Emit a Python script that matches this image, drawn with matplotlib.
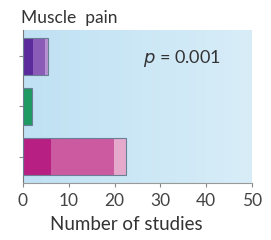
import matplotlib
matplotlib.use("Agg")
import matplotlib.pyplot as plt
import numpy as np
from matplotlib.colors import LinearSegmentedColormap

categories = ["A", "B", "C"]
seg1 = [2.2, 2.0, 6.2]
seg2 = [2.6, 0.0, 13.6]
seg3 = [0.7, 0.0, 2.6]
colors1 = ["#5b2a9c", "#1f9a63", "#b81f83"]
colors2 = ["#8a5cb8", "#1f9a63", "#cc5aa0"]
colors3 = ["#b792d2", "#1f9a63", "#e5a9cc"]
xticks = [0, 10, 20, 30, 40, 50]

plt.rcParams['font.family'] = ['Lato', 'DejaVu Sans']
fig = plt.figure(figsize=(2.71, 2.40), dpi=100)
ax = fig.add_axes([23/271, 1-183/240, (252-23)/271, (183-30)/240])

grad = np.linspace(0, 1, 256).reshape(1, -1)
cmap = LinearSegmentedColormap.from_list("bg", ["#bfe1f3", "#d8edf8"])
ax.imshow(grad, extent=[0, 50, 2.53, -0.53], aspect='auto', cmap=cmap, zorder=0)

y = np.arange(len(categories))
s1 = np.array(seg1); s2 = np.array(seg2); s3 = np.array(seg3)
h = 0.74
ax.barh(y, s1, height=h, color=colors1, zorder=2)
ax.barh(y, s2, left=s1, height=h, color=colors2, zorder=2)
ax.barh(y, s3, left=s1+s2, height=h, color=colors3, zorder=2)
ax.barh(y, s1+s2+s3, height=h, fill=False, edgecolor="#6a7f95", linewidth=0.8, zorder=3)

ax.set_xlim(0, 50)
ax.set_ylim(2.53, -0.53)
ax.set_xticks(xticks)
ax.set_xticklabels([str(t) for t in xticks], fontsize=12.5, color="#444444")
ax.set_yticks(y)
ax.set_yticklabels([])
ax.tick_params(axis='y', length=3, color="#888888", width=0.8)
ax.tick_params(axis='x', length=3, color="#888888", width=0.8, pad=4)
for s in ["top", "right"]:
    ax.spines[s].set_visible(False)
ax.spines["left"].set_color("#777777")
ax.spines["bottom"].set_color("#999999")
ax.spines["left"].set_linewidth(0.8)
ax.spines["bottom"].set_linewidth(0.8)

ax.text(26.2, 0.05, r"$\it{p}$ = 0.001", fontsize=13, color="#333333", ha='left', va='center')
fig.text(21/271, 1-22.7/240, "Muscle  pain", fontsize=12.5, color="#333333", ha='left', va='baseline')
fig.text(126/271, 1-230/240, "Number of studies", fontsize=13.5, color="#333333", ha='center', va='baseline')

fig.savefig("out.png", dpi=100)
